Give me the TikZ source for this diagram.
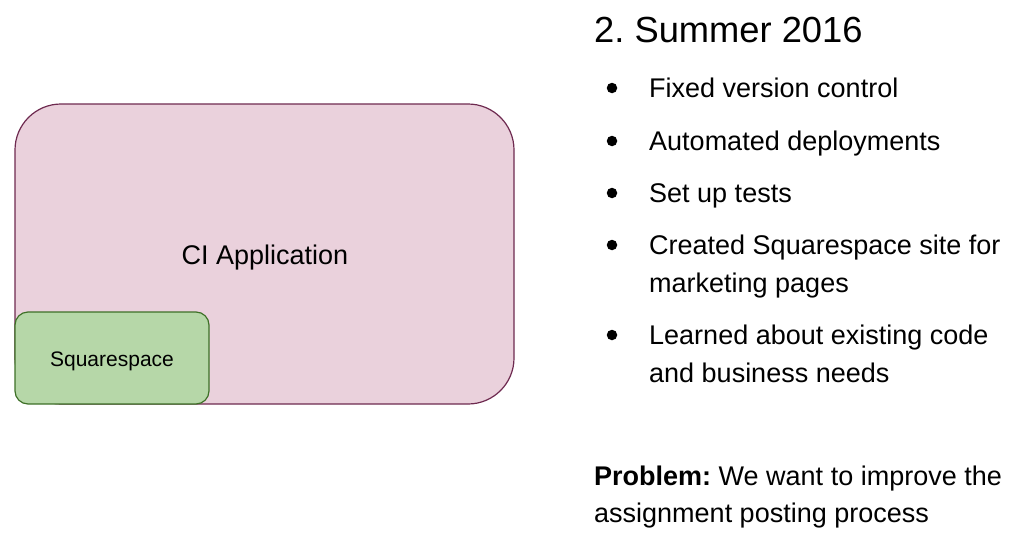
\documentclass[tikz,border=0pt]{standalone}
\usepackage{fontspec}
\setmainfont{Liberation Sans}
\frenchspacing
\definecolor{pinkfill}{HTML}{EAD1DC}
\definecolor{pinkdraw}{HTML}{6E2A50}
\definecolor{greenfill}{HTML}{B6D7A8}
\definecolor{greendraw}{HTML}{3E7027}
\tikzset{
  txt/.style={anchor=base west, inner sep=0pt, font=\fontsize{27}{32}\selectfont},
  bul/.style={circle, fill=black, inner sep=0pt, minimum size=10.5pt},
}
\begin{document}
\begin{tikzpicture}[x=1pt,y=-1pt]
\useasboundingbox (0,0) rectangle (1024,543);
\draw[pinkdraw, fill=pinkfill, line width=1.2pt, rounded corners=46pt] (15,104) rectangle (514,404);
\node[anchor=base, inner sep=0pt] (ci) at (265,264) {\fontsize{27}{32}\selectfont CI Application};
\draw[greendraw, fill=greenfill, line width=1.2pt, rounded corners=13pt] (15,312) rectangle (209,404);
\node[anchor=base, inner sep=0pt] (sq) at (112,366) {\fontsize{21}{25}\selectfont Squarespace};
\node[anchor=base west, inner sep=0pt] (title) at (594,42) {\fontsize{36.3}{40}\selectfont 2. Summer 2016};
\node[bul] (b1) at (612,88) {};
\node[txt] (t1) at (649,97) {Fixed version control};
\node[bul] (b2) at (612,141) {};
\node[txt] (t2) at (649,150) {Automated deployments};
\node[bul] (b3) at (612,193) {};
\node[txt] (t3) at (649,202) {Set up tests};
\node[bul] (b4) at (612,245) {};
\node[txt] (t4) at (649,254) {Created Squarespace site for};
\node[txt] (t4b) at (649,292) {marketing pages};
\node[bul] (b5) at (612,335) {};
\node[txt] (t5) at (649,344) {Learned about existing code};
\node[txt] (t5b) at (649,382) {and business needs};
\node[txt] (p1) at (594,485) {\textbf{Problem:} We want to improve the};
\node[txt] (p2) at (594,522) {assignment posting process};
\end{tikzpicture}
\end{document}
